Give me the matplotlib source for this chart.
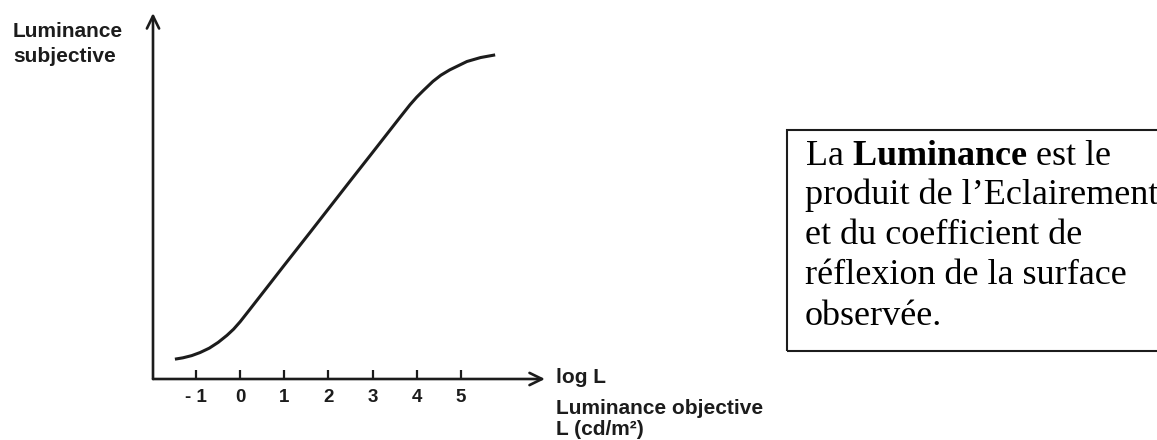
import matplotlib
matplotlib.use('Agg')
import matplotlib.pyplot as plt
from matplotlib.patches import Rectangle

# ---- data ----
log_L = [-1.48, -1.30, -1.10, -0.91, -0.70, -0.50, -0.30, -0.15, 0.00,
         0.22, 0.68, 0.975, 1.58, 2.50, 2.94, 3.62, 3.85, 4.00,
         4.15, 4.37, 4.55, 4.75, 5.14, 5.45, 5.78]
lum_subj = [0.45, 0.48, 0.53, 0.60, 0.70, 0.83, 0.99, 1.13, 1.30,
            1.58, 2.17, 2.55, 3.32, 4.50, 5.06, 5.93, 6.22, 6.39,
            6.54, 6.75, 6.89, 7.01, 7.20, 7.29, 7.35]
tick_values = [-1, 0, 1, 2, 3, 4, 5]
tick_labels = ['- 1', '0', '1', '2', '3', '4', '5']
ylabel_lines = ['Luminance', 'subjective']
xlabel_top = 'log L'
xlabel_lines = ['Luminance objective', 'L (cd/m\u00b2)']
box_lines = ['La $\\mathbf{Luminance}$ est le',
             'produit de l\u2019Eclairement',
             'et du coefficient de',
             'r\u00e9flexion de la surface',
             'observ\u00e9e.']

W, H = 1157, 440
plt.rcParams['font.family'] = ['Liberation Sans', 'DejaVu Sans']
plt.rcParams['mathtext.fontset'] = 'custom'
plt.rcParams['mathtext.rm'] = 'Liberation Serif'
plt.rcParams['mathtext.bf'] = 'Liberation Serif:bold'

ink = '#1c1c1c'
fig = plt.figure(figsize=(W / 100, H / 100), dpi=100)
fig.patch.set_facecolor('white')

# axes: origin at pixel (153, 379), x arrow tip at 545, y arrow tip at 13
ax = fig.add_axes([153 / W, (H - 379) / H, (545 - 153) / W, (379 - 13) / H])
ax.set_xlim(-1.977, 6.91)
ax.set_ylim(0, 8.30)
ax.patch.set_alpha(0)
for s in ax.spines.values():
    s.set_visible(False)

ax.plot(log_L, lum_subj, color=ink, lw=2.2, solid_capstyle='butt',
        solid_joinstyle='round')

ax.set_xticks(tick_values, tick_labels)
ax.set_yticks([])
ax.tick_params(axis='x', direction='in', length=6.5, width=1.6, color=ink,
               pad=7, labelsize=13.5, labelcolor=ink)
for lbl in ax.get_xticklabels():
    lbl.set_fontweight('bold')

arrow = dict(arrowstyle='->,head_length=0.45,head_width=0.22', lw=1.9,
             color=ink, shrinkA=0, shrinkB=0, mutation_scale=20)
ax.annotate('', xy=(1, 0), xytext=(0, 0), xycoords='axes fraction',
            textcoords='axes fraction', arrowprops=arrow, annotation_clip=False)
ax.annotate('', xy=(0, 1), xytext=(0, 0), xycoords='axes fraction',
            textcoords='axes fraction', arrowprops=arrow, annotation_clip=False)

def px(x, y):
    return x / W, 1 - y / H

# y label (two lines, bold sans)
for txt, base in zip(ylabel_lines, [37, 62]):
    fig.text(*px(13, base), txt, fontsize=15, fontweight='bold', color=ink,
             ha='left', va='baseline')

# x labels
fig.text(*px(556, 383), xlabel_top, fontsize=15, fontweight='bold',
         color=ink, ha='left', va='baseline')
for txt, base in zip(xlabel_lines, [414, 435]):
    fig.text(*px(556, base), txt, fontsize=15, fontweight='bold',
             color=ink, ha='left', va='baseline')

# text box
rect = Rectangle(px(787, 351), (1165 - 787) / W, (351 - 130) / H,
                 transform=fig.transFigure, fill=False, lw=1.5,
                 edgecolor=ink)
fig.patches.append(rect)
for txt, base in zip(box_lines, [165, 204, 244, 284, 325]):
    fig.text(*px(805, base), txt, fontsize=26, family='Liberation Serif',
             color='black', ha='left', va='baseline')

fig.savefig('out.png', dpi=100, facecolor='white')
